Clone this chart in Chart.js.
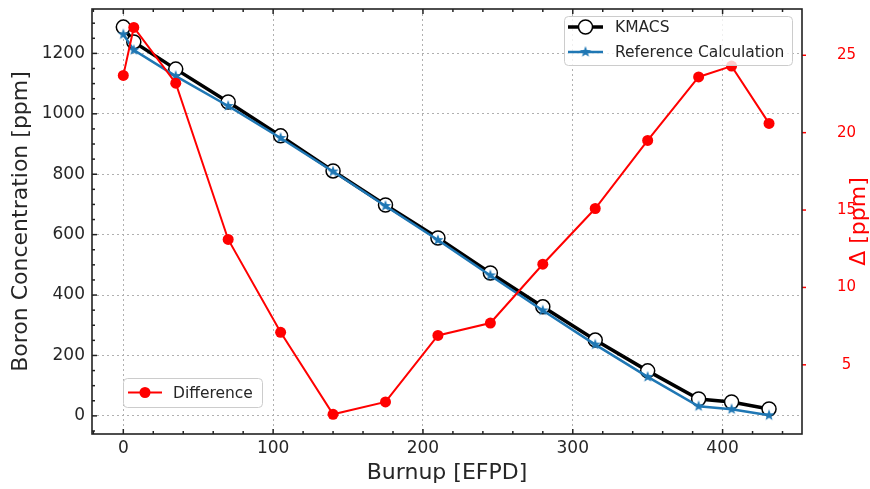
<!DOCTYPE html>
<html>
<head>
<meta charset="utf-8">
<script src="https://cdn.jsdelivr.net/npm/chart.js@4/dist/chart.umd.min.js"></script>
<style>
  body { margin: 0; background: #fff; }
  #wrap { width: 870px; height: 489px; }
</style>
</head>
<body>
<div id="wrap"><canvas id="chart" width="870" height="489"></canvas></div>
<script>
// burnup points (EFPD) and the three series
const burnup = [0, 7, 35, 70, 105, 140, 175, 210, 245, 280, 315, 350, 384, 406, 431];
const kmacs = [1287, 1238, 1148, 1039, 927, 811, 698, 589, 473, 361, 251, 149, 56, 46, 23];
const reference = [1263, 1211, 1125, 1026, 920, 809, 695, 582, 465, 349, 236, 129, 32, 22, 2];
const difference = [23.7, 26.8, 23.2, 13.1, 7.1, 1.8, 2.6, 6.9, 7.7, 11.5, 15.1, 19.5, 23.6, 24.3, 20.6];

// tick labels
const xTicks = [0, 100, 200, 300, 400];
const yTicks = [0, 200, 400, 600, 800, 1000, 1200];
const y2Ticks = [5, 10, 15, 20, 25];
const xMinorStep = 20;
const yMinorStep = 50;

const FONT = '"DejaVu Sans", "Liberation Sans", sans-serif';
const TEXT = '#262626';
const BLUE = '#1f77b4';
const RED = '#ff0000';

// filled 5-point star like matplotlib's '*' marker
function makeStar(color, r) {
  const c = document.createElement('canvas');
  const s = Math.ceil(r * 2 + 2);
  c.width = s; c.height = s;
  const g = c.getContext('2d');
  g.translate(s / 2, s / 2);
  g.beginPath();
  for (let i = 0; i < 10; i++) {
    const rad = i % 2 ? r * 0.4 : r;
    const a = -Math.PI / 2 + i * Math.PI / 5;
    g.lineTo(rad * Math.cos(a), rad * Math.sin(a));
  }
  g.closePath();
  g.fillStyle = color;
  g.fill();
  return c;
}
const star = makeStar(BLUE, 6);

const pts = (ys) => burnup.map((x, i) => ({ x: x, y: ys[i] }));

// keep the plot box at a fixed place: no extra room for edge labels
const noPad = (s) => { s.paddingTop = 0; s.paddingBottom = 0; s.paddingLeft = 0; s.paddingRight = 0; };

// frame, inward ticks, legends and the right-hand title
const decor = {
  id: 'decor',
  afterDraw(chart) {
    const ctx = chart.ctx;
    const a = chart.chartArea;
    const sx = chart.scales.x, sy = chart.scales.y, sy2 = chart.scales.y2;
    ctx.save();

    ctx.strokeStyle = '#222';
    ctx.lineWidth = 1.5;
    const tick = (x1, y1, x2, y2) => { ctx.beginPath(); ctx.moveTo(x1, y1); ctx.lineTo(x2, y2); ctx.stroke(); };

    for (let v = Math.ceil(sx.min / xMinorStep) * xMinorStep; v <= sx.max; v += xMinorStep) {
      const px = sx.getPixelForValue(v);
      const len = xTicks.includes(v) ? 5 : 3;
      tick(px, a.bottom, px, a.bottom - len);
      tick(px, a.top, px, a.top + len);
    }
    for (let v = Math.ceil(sy.min / yMinorStep) * yMinorStep; v <= sy.max; v += yMinorStep) {
      const py = sy.getPixelForValue(v);
      const len = yTicks.includes(v) ? 5 : 3;
      tick(a.left, py, a.left + len, py);
    }
    ctx.strokeStyle = RED;
    y2Ticks.forEach(v => {
      const py = sy2.getPixelForValue(v);
      tick(a.right, py, a.right + 4, py);
    });

    ctx.strokeStyle = '#222';
    ctx.lineWidth = 1.6;
    ctx.strokeRect(a.left, a.top, a.right - a.left, a.bottom - a.top);

    // right axis title, reading bottom to top
    ctx.fillStyle = RED;
    ctx.font = '22px ' + FONT;
    ctx.textAlign = 'center';
    ctx.textBaseline = 'middle';
    ctx.translate(859, (a.top + a.bottom) / 2);
    ctx.rotate(-Math.PI / 2);
    ctx.fillText('\u0394 [ppm]', 0, 0);
    ctx.setTransform(1, 0, 0, 1, 0, 0);

    const box = (x, y, w, h) => {
      ctx.beginPath();
      ctx.roundRect(x + 0.5, y + 0.5, w, h, 4);
      ctx.fillStyle = 'rgba(255,255,255,0.8)';
      ctx.fill();
      ctx.strokeStyle = '#cccccc';
      ctx.lineWidth = 1;
      ctx.stroke();
    };
    const label = (t, x, y) => {
      ctx.fillStyle = TEXT;
      ctx.font = '15.5px ' + FONT;
      ctx.textAlign = 'left';
      ctx.textBaseline = 'middle';
      ctx.fillText(t, x, y);
    };
    const sample = (x1, x2, y, color, width) => {
      ctx.strokeStyle = color;
      ctx.lineWidth = width;
      ctx.beginPath(); ctx.moveTo(x1, y); ctx.lineTo(x2, y); ctx.stroke();
    };

    box(564, 16, 228, 49);
    sample(568, 603, 27, '#000', 3.5);
    ctx.beginPath(); ctx.arc(585.5, 27, 7, 0, Math.PI * 2);
    ctx.fillStyle = '#fff'; ctx.fill();
    ctx.strokeStyle = '#000'; ctx.lineWidth = 1.5; ctx.stroke();
    label('KMACS', 615, 28);
    sample(568, 603, 52, BLUE, 2.5);
    ctx.drawImage(star, 585.5 - star.width / 2, 52 - star.height / 2);
    label('Reference Calculation', 615, 53);

    box(123, 378, 139, 29);
    sample(128, 162, 392.5, RED, 2);
    ctx.beginPath(); ctx.arc(145, 392.5, 5.5, 0, Math.PI * 2);
    ctx.fillStyle = RED; ctx.fill();
    label('Difference', 173, 393.5);

    ctx.restore();
  }
};

new Chart(document.getElementById('chart'), {
  type: 'line',
  data: {
    datasets: [
      {
        label: 'Difference',
        data: pts(difference),
        yAxisID: 'y2',
        borderColor: RED,
        backgroundColor: RED,
        borderWidth: 2,
        pointRadius: 5.5,
        pointBorderWidth: 0,
        order: 0
      },
      {
        label: 'Reference Calculation',
        data: pts(reference),
        yAxisID: 'y',
        borderColor: BLUE,
        backgroundColor: BLUE,
        borderWidth: 2.5,
        pointStyle: star,
        order: 1
      },
      {
        label: 'KMACS',
        data: pts(kmacs),
        yAxisID: 'y',
        borderColor: '#000',
        backgroundColor: '#fff',
        borderWidth: 3.5,
        pointRadius: 7,
        pointBorderWidth: 1.5,
        pointBorderColor: '#000',
        order: 2
      }
    ]
  },
  options: {
    responsive: false,
    devicePixelRatio: 1,
    animation: false,
    layout: { padding: { top: 9, left: 0, right: 0, bottom: 0 } },
    plugins: { legend: { display: false }, tooltip: { enabled: false } },
    scales: {
      x: {
        type: 'linear',
        bounds: 'data',
        min: -20.9,
        max: 453,
        afterBuildTicks: (s) => { s.ticks = xTicks.map(v => ({ value: v })); },
        afterFit: (s) => { s.height = 55; noPad(s); },
        grid: { color: '#b0b0b0', lineWidth: 1, drawTicks: false },
        border: { display: false, dash: [2, 3] },
        ticks: { color: TEXT, font: { family: FONT, size: 17 }, padding: 4, maxRotation: 0, callback: v => String(v) },
        title: { display: true, text: 'Burnup [EFPD]', color: TEXT, font: { family: FONT, size: 22 }, padding: { top: 0, bottom: 3 } }
      },
      y: {
        type: 'linear',
        position: 'left',
        bounds: 'data',
        min: -60,
        max: 1347,
        afterBuildTicks: (s) => { s.ticks = yTicks.map(v => ({ value: v })); },
        afterFit: (s) => { s.width = 92; noPad(s); },
        grid: { color: '#b0b0b0', lineWidth: 1, drawTicks: false },
        border: { display: false, dash: [2, 3] },
        ticks: { color: TEXT, font: { family: FONT, size: 17 }, padding: 7, callback: v => String(v) },
        title: { display: true, text: 'Boron Concentration [ppm]', color: TEXT, font: { family: FONT, size: 22 }, padding: { top: 8, bottom: 0 } }
      },
      y2: {
        type: 'linear',
        position: 'right',
        bounds: 'data',
        min: 0.53,
        max: 27.99,
        afterBuildTicks: (s) => { s.ticks = y2Ticks.map(v => ({ value: v })); },
        afterFit: (s) => { s.width = 68; noPad(s); },
        grid: { drawOnChartArea: false, drawTicks: false },
        border: { display: false },
        ticks: { color: RED, font: { family: FONT, size: 15 }, padding: 35, crossAlign: 'center', callback: v => String(v) },
        title: { display: false }
      }
    }
  },
  plugins: [decor]
});
</script>
</body>
</html>
